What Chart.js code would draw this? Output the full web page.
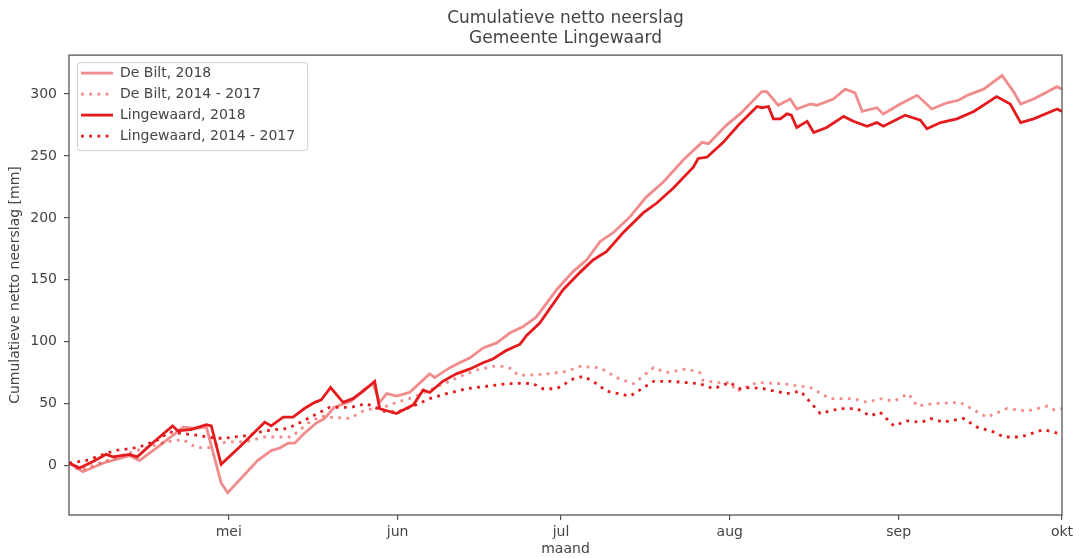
<!DOCTYPE html>
<html>
<head>
<meta charset="utf-8">
<script src="https://cdn.jsdelivr.net/npm/chart.js@4.4.1/dist/chart.umd.min.js"></script>
<style>
  html, body { margin: 0; padding: 0; background: #ffffff; }
  #wrap { width: 1085px; height: 558px; }
</style>
</head>
<body>
<div id="wrap"><canvas id="c" width="1085" height="558"></canvas></div>
<script>
// ---- Data (day index: 0 = 1 april 2018) ----
const monthTickDays = [30, 61, 91, 122, 153, 183];
const monthTickLabels = ['mei', 'jun', 'jul', 'aug', 'sep', 'okt'];
const yTickValues = [0, 50, 100, 150, 200, 250, 300];
const seriesLabels = ['De Bilt, 2018', 'De Bilt, 2014 - 2017', 'Lingewaard, 2018', 'Lingewaard, 2014 - 2017'];

const deBilt2018Days = [0.7,3.2,7,11.8,13.6,17,20.5,21.6,24,25.9,28.6,29.8,35.3,37.8,39.3,40.9,42.1,43.9,46,47.6,49.4,52.5,55,56.5,57.7,59,60.8,63.2,66.9,67.8,70.6,72.4,74.3,76.7,79.2,81.6,84,86.5,90.2,93.3,95.7,98.2,100.6,103.7,106.7,109.8,113.5,116.9,118.1,121.4,123.9,127.9,128.8,130.9,133.1,134.3,136.8,138,141,143.2,145,146.3,149,150.2,153.3,156.4,159.1,161.9,164,165.6,168.6,172,174.1,175.4,177.8,182.1,183];
const deBilt2018Values = [2,-5,2,8,4,15,27,31,30,31,-14,-22,4,12,14,18,18,26,34,38,47,52,62,66,51,58,56,59,74,71,79,83,87,95,99,107,112,120,142,157,166,181,188,201,217,229,247,261,260,275,284,302,302,291,296,288,292,291,296,304,301,286,289,284,292,299,288,293,295,299,304,315,302,292,296,306,304];

const deBiltAvgDays = [0.7,2.6,6.9,13,18.5,21.6,24,26.5,29.5,33,36.6,41.5,44.5,47,48.5,52.2,54.7,56.5,59,60.8,63.9,66.9,70,73,75.5,78.5,80.4,82,83.1,85.3,88.4,92,94.5,98.2,101.2,104.3,108,110.4,114.1,116.5,117,119.6,122,123.3,127,131.9,136.8,140.4,144.7,147.2,149.6,152.1,154.8,156.4,159.4,164.3,169.2,172.9,176.6,180.3,181.5,183];
const deBiltAvgValues = [2,-4,3,12,19,21,14.5,14.5,19,19,23,23,34,40,39,38,44,46,48,51,55,61,67,73,77,80,80,78,73,73,74,76,80,79,71,66,79,75,78,75,69,67,67,60,67,66,63,54,54,51,54,52,58,48,50,51,39,46,44,48,45,46];

const lingewaard2018Days = [0.7,2.6,5,7.5,8.7,11.8,13.2,16.5,19.7,20.6,23,25.9,26.8,28.6,32,36.6,37.8,40,41.8,43.9,45.8,47,48.7,51,52.8,54.7,56.8,57.7,59.2,60.8,63.9,65.7,66.9,69.3,71.8,74.3,76.7,78.5,81,83.5,84.7,87.1,91.4,94.5,96.9,99.4,102.4,106.1,108.6,111.6,115.3,116.2,117.8,120.8,123.6,127,127.9,129.1,130,131.3,132.5,133.3,134.3,136.2,137.4,139.8,142.9,144.7,147.2,149,150.2,154.2,157,158.2,160.7,163.7,166.8,171,173.5,175.4,177.8,182.1,183];
const lingewaard2018Values = [2,-2,3,9,7,9,7,20,32,28,29,33,32,1,15,35,32,39,39,46,51,53,63,51,54,60,68,46,44,42,49,61,59,68,74,78,83,86,93,98,105,115,142,156,166,173,188,204,212,224,241,248,249,261,275,290,289,290,280,280,284,283,273,278,269,273,282,278,274,277,274,283,279,272,277,280,286,298,292,277,280,288,286];

const lingewaardAvgDays = [0.7,3.8,9,13.3,16.7,19.1,24,27.7,29,33,36.6,40.9,45,48.5,52.5,55.3,58.3,60.8,63.9,66.9,70,73.7,77.3,81,84,85.9,87.7,90.2,93.3,95.1,96.9,99.4,103.7,108,111,114.1,116.5,119,122,123.9,125.7,128.2,132.5,135,138.6,142.3,145.3,147.8,149.6,152.1,154.5,157.3,158.8,161.2,164.9,167.4,170.5,172.3,175.4,179.6,182.3];
const lingewaardAvgValues = [2,4,12,14.5,20,27,24.5,22,22,24,28,30,39,47,47,50,44,43,48,54,58,62,64,66,66.5,66,62,62,70,72,68,60,56,68,68,67,66,62,67,62,63,62,58,60,42,46,46,40,43,32,36,35,38,35,38,31,27,23,23,29,26];

// ---- helpers ----
function toPoints(days, values) {
  return days.map((d, i) => ({ x: d, y: values[i] }));
}

const RED = 'rgb(228,26,28)';
const RED_LIGHT = 'rgba(228,26,28,0.5)';
const TEXT = '#444444';
const AXIS = '#555555';
const FONT = "'DejaVu Sans', sans-serif";

const framePlugin = {
  id: 'frameAndLegendBox',
  afterLayout(chart) {
    const lg = chart.legend;
    if (lg) {
      lg.left = chart.chartArea.left + 5;
      lg.top = chart.chartArea.top + 4;
    }
  },
  beforeDraw(chart) {
    const lg = chart.legend;
    if (!lg || !lg.legendHitBoxes || !lg.legendHitBoxes.length) return;
    const ctx = chart.ctx;
    const pad = lg.options.labels.padding;
    const fs = 14;
    const n = lg.legendHitBoxes.length;
    const lineStart = lg.left + pad;
    const firstTop = lg.top + pad;
    const lastBottom = firstTop + (n - 1) * (fs + pad) + fs;
    const maxW = Math.max(...lg.legendHitBoxes.map(h => h.width));
    const x0 = lineStart - 4, y0 = firstTop - 4;
    const x1 = lineStart + maxW + 12, y1 = lastBottom + 7;
    ctx.save();
    ctx.beginPath();
    if (ctx.roundRect) ctx.roundRect(x0 + 0.5, y0 + 0.5, x1 - x0, y1 - y0, 3);
    else ctx.rect(x0 + 0.5, y0 + 0.5, x1 - x0, y1 - y0);
    ctx.fillStyle = 'rgba(255,255,255,0.8)';
    ctx.fill();
    ctx.strokeStyle = '#cccccc';
    ctx.lineWidth = 1;
    ctx.stroke();
    ctx.restore();
  },
  afterDatasetsDraw(chart) {
    const a = chart.chartArea;
    const ctx = chart.ctx;
    ctx.save();
    ctx.strokeStyle = AXIS;
    ctx.lineWidth = 1.3;
    ctx.strokeRect(a.left, a.top, a.right - a.left, a.bottom - a.top);
    ctx.restore();
  }
};

const ctx = document.getElementById('c').getContext('2d');
new Chart(ctx, {
  type: 'line',
  data: {
    datasets: [
      {
        label: seriesLabels[0],
        data: toPoints(deBilt2018Days, deBilt2018Values),
        borderColor: RED_LIGHT, backgroundColor: RED_LIGHT,
        borderWidth: 2.8, pointRadius: 0, tension: 0, order: 4
      },
      {
        label: seriesLabels[1],
        data: toPoints(deBiltAvgDays, deBiltAvgValues),
        borderColor: RED_LIGHT, backgroundColor: RED_LIGHT,
        borderWidth: 2.8, borderDash: [2.8, 5.4], pointRadius: 0, tension: 0, order: 3
      },
      {
        label: seriesLabels[2],
        data: toPoints(lingewaard2018Days, lingewaard2018Values),
        borderColor: RED, backgroundColor: RED,
        borderWidth: 2.8, pointRadius: 0, tension: 0, order: 2
      },
      {
        label: seriesLabels[3],
        data: toPoints(lingewaardAvgDays, lingewaardAvgValues),
        borderColor: RED, backgroundColor: RED,
        borderWidth: 2.8, borderDash: [2.8, 5.4], pointRadius: 0, tension: 0, order: 1
      }
    ]
  },
  options: {
    responsive: false,
    animation: false,
    devicePixelRatio: 1,
    layout: { padding: { left: 0, right: 23, top: 0, bottom: 0 } },
    plugins: {
      tooltip: { enabled: false },
      title: {
        display: true,
        fullSize: false,
        text: ['Cumulatieve netto neerslag', 'Gemeente Lingewaard'],
        color: TEXT,
        font: { family: FONT, size: 17, weight: 'normal', lineHeight: 1.15 },
        padding: { top: 9, bottom: 7 }
      },
      legend: {
        display: true,
        position: 'chartArea',
        align: 'start',
        labels: {
          usePointStyle: true,
          pointStyleWidth: 32,
          padding: 7,
          color: TEXT,
          font: { family: FONT, size: 14 },
          generateLabels(chart) {
            return chart.data.datasets.map((ds, i) => ({
              text: ds.label,
              fillStyle: ds.borderColor,
              strokeStyle: ds.borderColor,
              fontColor: TEXT,
              lineWidth: ds.borderWidth,
              lineDash: ds.borderDash || [],
              lineCap: 'butt',
              pointStyle: 'line',
              hidden: false,
              datasetIndex: i
            }));
          }
        }
      }
    },
    scales: {
      x: {
        type: 'linear',
        min: 0.67,
        max: 183,
        afterBuildTicks(scale) { scale.ticks = monthTickDays.map(v => ({ value: v })); },
        afterFit(scale) { scale.height = 43; },
        ticks: {
          autoSkip: false, maxRotation: 0, padding: 4,
          color: TEXT, font: { family: FONT, size: 14 },
          callback: (value) => monthTickLabels[monthTickDays.indexOf(value)]
        },
        grid: { display: true, drawOnChartArea: false, drawTicks: true, tickLength: 5, color: AXIS, lineWidth: 1.2 },
        border: { display: false },
        title: {
          display: true, text: 'maand', color: TEXT,
          font: { family: FONT, size: 14 }, padding: { top: 0, bottom: 0 }
        }
      },
      y: {
        type: 'linear',
        min: -40,
        max: 331.5,
        afterBuildTicks(scale) { scale.ticks = yTickValues.map(v => ({ value: v })); },
        afterFit(scale) { scale.width = 69; },
        ticks: {
          padding: 7, color: TEXT, font: { family: FONT, size: 14 },
          callback: (value) => String(value)
        },
        grid: { display: true, drawOnChartArea: false, drawTicks: true, tickLength: 5, color: AXIS, lineWidth: 1.2 },
        border: { display: false },
        title: {
          display: true, text: 'Cumulatieve netto neerslag [mm]', color: TEXT,
          font: { family: FONT, size: 14 }, padding: { top: 7, bottom: 0 }
        }
      }
    }
  },
  plugins: [framePlugin]
});
</script>
</body>
</html>
